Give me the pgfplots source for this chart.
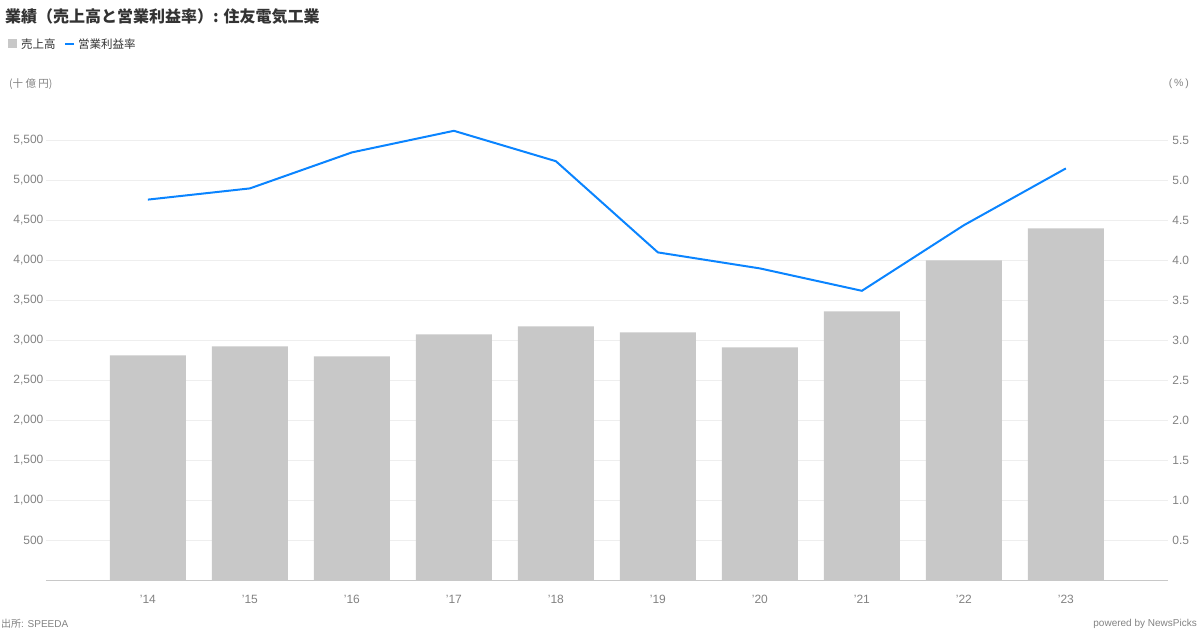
\documentclass[border=0pt]{standalone}
\usepackage{pgfplots}
\pgfplotsset{compat=1.18}
\usepackage{fontspec}
\setmainfont{Liberation Sans}
\newfontfamily\jp{Noto Sans CJK JP}
\definecolor{barcol}{RGB}{200,200,200}
\definecolor{linecol}{RGB}{10,132,255}
\definecolor{ticktext}{RGB}{130,130,130}
\definecolor{gridcol}{RGB}{238,238,238}
\definecolor{titlecol}{RGB}{51,51,51}

\begin{document}
\begin{tikzpicture}[x=1pt,y=1pt]
    % page frame: 1200 x 630
    \path (0,0) rectangle (1200,630);
    % title and legend
    \node[anchor=west, font=\jp\bfseries\fontsize{16}{18}\selectfont, text=titlecol, inner sep=0] at (5,613) {業績（売上高と営業利益率）: 住友電気工業};
    \fill[barcol] (8,582) rectangle (17,591);
    \node[anchor=west, font=\jp\fontsize{11.5}{13}\selectfont, text=titlecol, inner sep=0] at (21,586) {売上高};
    \draw[linecol, line width=2] (65,586) -- (74,586);
    \node[anchor=west, font=\jp\fontsize{11.5}{13}\selectfont, text=titlecol, inner sep=0] at (78,586) {営業利益率};
    % units
    \node[anchor=west, font=\jp\fontsize{10.5}{12}\selectfont, text=ticktext, inner sep=0] at (9,546) {(十 億 円)};
    \node[anchor=east, font=\fontsize{10.5}{12}\selectfont, text=ticktext, inner sep=0] at (1189,546) {(\,\%\,)};
    % footer
    \node[anchor=west, font=\fontsize{10}{12}\selectfont, text=ticktext, inner sep=0] at (1,6) {{\jp 出所}: SPEEDA};
    \node[anchor=east, font=\fontsize{10}{12}\selectfont, text=ticktext, inner sep=0] at (1197,6) {powered by NewsPicks};

    \begin{axis}[
            at={(45,62)}, anchor=south west,
            scale only axis,
            width=1122pt, height=480pt,
            xmin=-1, xmax=10,
            ymin=0, ymax=6000,
            axis y line*=left,
            axis x line*=bottom,
            y axis line style={draw=none},
            x axis line style={draw=barcol, line width=1.5pt},
            xtick={0,...,9},
            xticklabels={'14,'15,'16,'17,'18,'19,'20,'21,'22,'23},
            ytick={500,1000,...,5500},
            major tick length=0pt,
            ymajorgrids=true,
            major grid style={gridcol, line width=1pt},
            ticklabel style={text=ticktext, font=\fontsize{12}{14}\selectfont},
            xticklabel style={yshift=-11pt},
            yticklabel style={xshift=1pt},
            /pgf/number format/assume math mode=true,
            /pgf/number format/1000 sep={,},
            clip=false,
        ]
        \addplot[ybar, bar width=76pt, fill=barcol, draw=none] coordinates {
                (0,2812) (1,2925) (2,2800) (3,3075) (4,3175)
                (5,3100) (6,2912) (7,3362) (8,4000) (9,4400)
            };
    \end{axis}

    \begin{axis}[
            at={(45,62)}, anchor=south west,
            scale only axis,
            width=1122pt, height=480pt,
            xmin=-1, xmax=10,
            ymin=0, ymax=6,
            axis y line*=right,
            axis x line=none,
            y axis line style={draw=none},
            ytick={0.5,1,...,5.5},
            major tick length=0pt,
            ticklabel style={text=ticktext, font=\fontsize{12}{14}\selectfont},
            yticklabel style={xshift=1pt},
            /pgf/number format/assume math mode=true,
            /pgf/number format/fixed,
            /pgf/number format/fixed zerofill,
            /pgf/number format/precision=1,
        ]
        \addplot[linecol, line width=2pt, mark=none] coordinates {
                (0,4.76) (1,4.90) (2,5.35) (3,5.62) (4,5.24)
                (5,4.10) (6,3.90) (7,3.62) (8,4.44) (9,5.15)
            };
    \end{axis}
\end{tikzpicture}
\end{document}
